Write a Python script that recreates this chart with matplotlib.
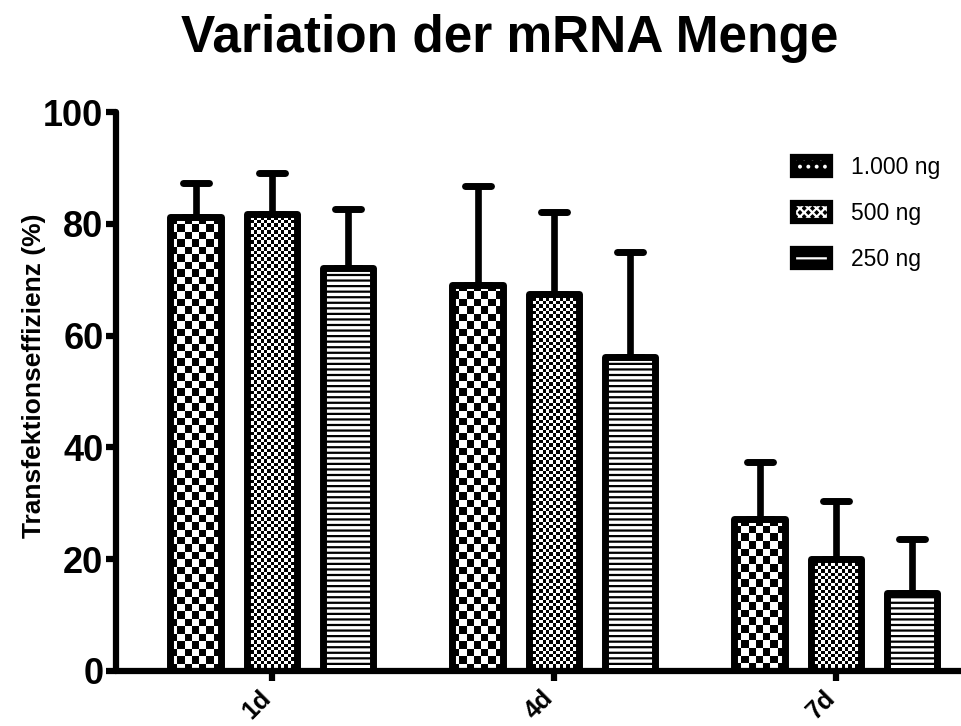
import matplotlib
matplotlib.use("Agg")
import matplotlib.pyplot as plt
import matplotlib.transforms as mtransforms
import numpy as np
from matplotlib.patches import Patch
from matplotlib.markers import MarkerStyle

days = ["1d", "4d", "7d"]
doses = ["1.000 ng", "500 ng", "250 ng"]
mean_1000 = [81.2, 69.1, 27.2]
mean_500 = [81.8, 67.4, 20.0]
mean_250 = [72.1, 56.2, 14.0]
sd_1000 = [6.1, 17.7, 10.2]
sd_500 = [7.3, 14.7, 10.4]
sd_250 = [10.5, 18.8, 9.6]

plt.rcParams["font.family"] = ["Liberation Sans", "DejaVu Sans"]
plt.rcParams["hatch.linewidth"] = 1.6


def checker(ax, bar, sq_px):
    # checkerboard fill, clipped to the bar
    x0, y0 = bar.get_x(), bar.get_y()
    w, h = bar.get_width(), bar.get_height()
    (px0, py0), (px1, py1) = ax.transData.transform([(x0, y0), (x0 + w, y0 + h)])
    nx = max(1, int(round((px1 - px0) / sq_px)))
    ny = max(1, int(round((py1 - py0) / sq_px)))
    grid = np.add.outer(np.arange(ny), np.arange(nx)) % 2
    im = ax.imshow(grid, extent=(x0, x0 + w, y0, y0 + h), origin="lower", cmap="gray",
                   vmin=0, vmax=1, interpolation="nearest", aspect="auto", zorder=2)
    im.set_clip_path(bar)


fig = plt.figure(figsize=(9.62, 7.26), dpi=100)
ax = fig.add_axes([116 / 962, 1 - 671 / 726, 1 - 116 / 962, (671 - 112) / 726])
ax.set_xlim(-0.553, 2.447)
ax.set_ylim(0, 100)

x = np.arange(len(days))
width = 0.18
offsets = [-0.27, 0.0, 0.27]
series = [(mean_1000, sd_1000, 7.5, None, ".."),
          (mean_500, sd_500, 3.4, None, "xxxx"),
          (mean_250, sd_250, None, "---", "-")]

handles = []
for (means, sds, sq, hatch, leg_hatch), off, label in zip(series, offsets, doses):
    bars = ax.bar(x + off, means, width, facecolor="none" if sq else "white",
                  edgecolor="black", linewidth=5, hatch=hatch, joinstyle="round", zorder=3)
    if sq:
        for b in bars:
            checker(ax, b, sq)
    eb = ax.errorbar(x + off, means, yerr=[np.zeros(len(sds)), sds], fmt="none",
                     ecolor="black", elinewidth=4.8, capsize=9.5, capthick=5, zorder=2.5)
    for cl in eb[1]:
        cl.set_marker(MarkerStyle("_", capstyle="round"))
    handles.append((Patch(facecolor="black", edgecolor="black", linewidth=1, joinstyle="round"),
                    Patch(facecolor="none", edgecolor="white", linewidth=0, hatch=leg_hatch),
                    Patch(facecolor="none", edgecolor="black", linewidth=4.5, joinstyle="round")))

ax.set_xlim(-0.553, 2.447)
ax.set_ylim(0, 100)

for s in ["top", "right"]:
    ax.spines[s].set_visible(False)
for s in ["left", "bottom"]:
    ax.spines[s].set_linewidth(4.5)
    ax.spines[s].set_capstyle("round")

ax.set_yticks([0, 20, 40, 60, 80, 100])
ax.tick_params(axis="y", length=7, width=4.5, labelsize=26, pad=2)
ax.set_xticks(x)
ax.set_xticklabels(days, rotation=45, ha="right", fontsize=18, fontweight="bold")
ax.tick_params(axis="x", length=7, width=4.5, pad=4)
for t in ax.get_yticklabels():
    t.set_fontweight("bold")
shift = mtransforms.ScaledTranslation(0.04, 0, fig.dpi_scale_trans)
for t in ax.get_xticklabels():
    t.set_transform(t.get_transform() + shift)

fig.text(0.53, 0.947, "Variation der mRNA Menge", ha="center", va="center",
         fontsize=37, fontweight="bold")
fig.text(0.035, 0.482, "Transfektionseffizienz (%)", ha="center", va="center",
         rotation=90, fontsize=19, fontweight="bold")

ax.legend(handles, doses, loc="upper left", bbox_to_anchor=(793 / 962, 1 - 156 / 726),
          bbox_transform=fig.transFigure, frameon=False, fontsize=16.5,
          handlelength=1.6, handleheight=0.8, labelspacing=1.0, handletextpad=0.95,
          borderpad=0, borderaxespad=0)

fig.savefig("out.png")
